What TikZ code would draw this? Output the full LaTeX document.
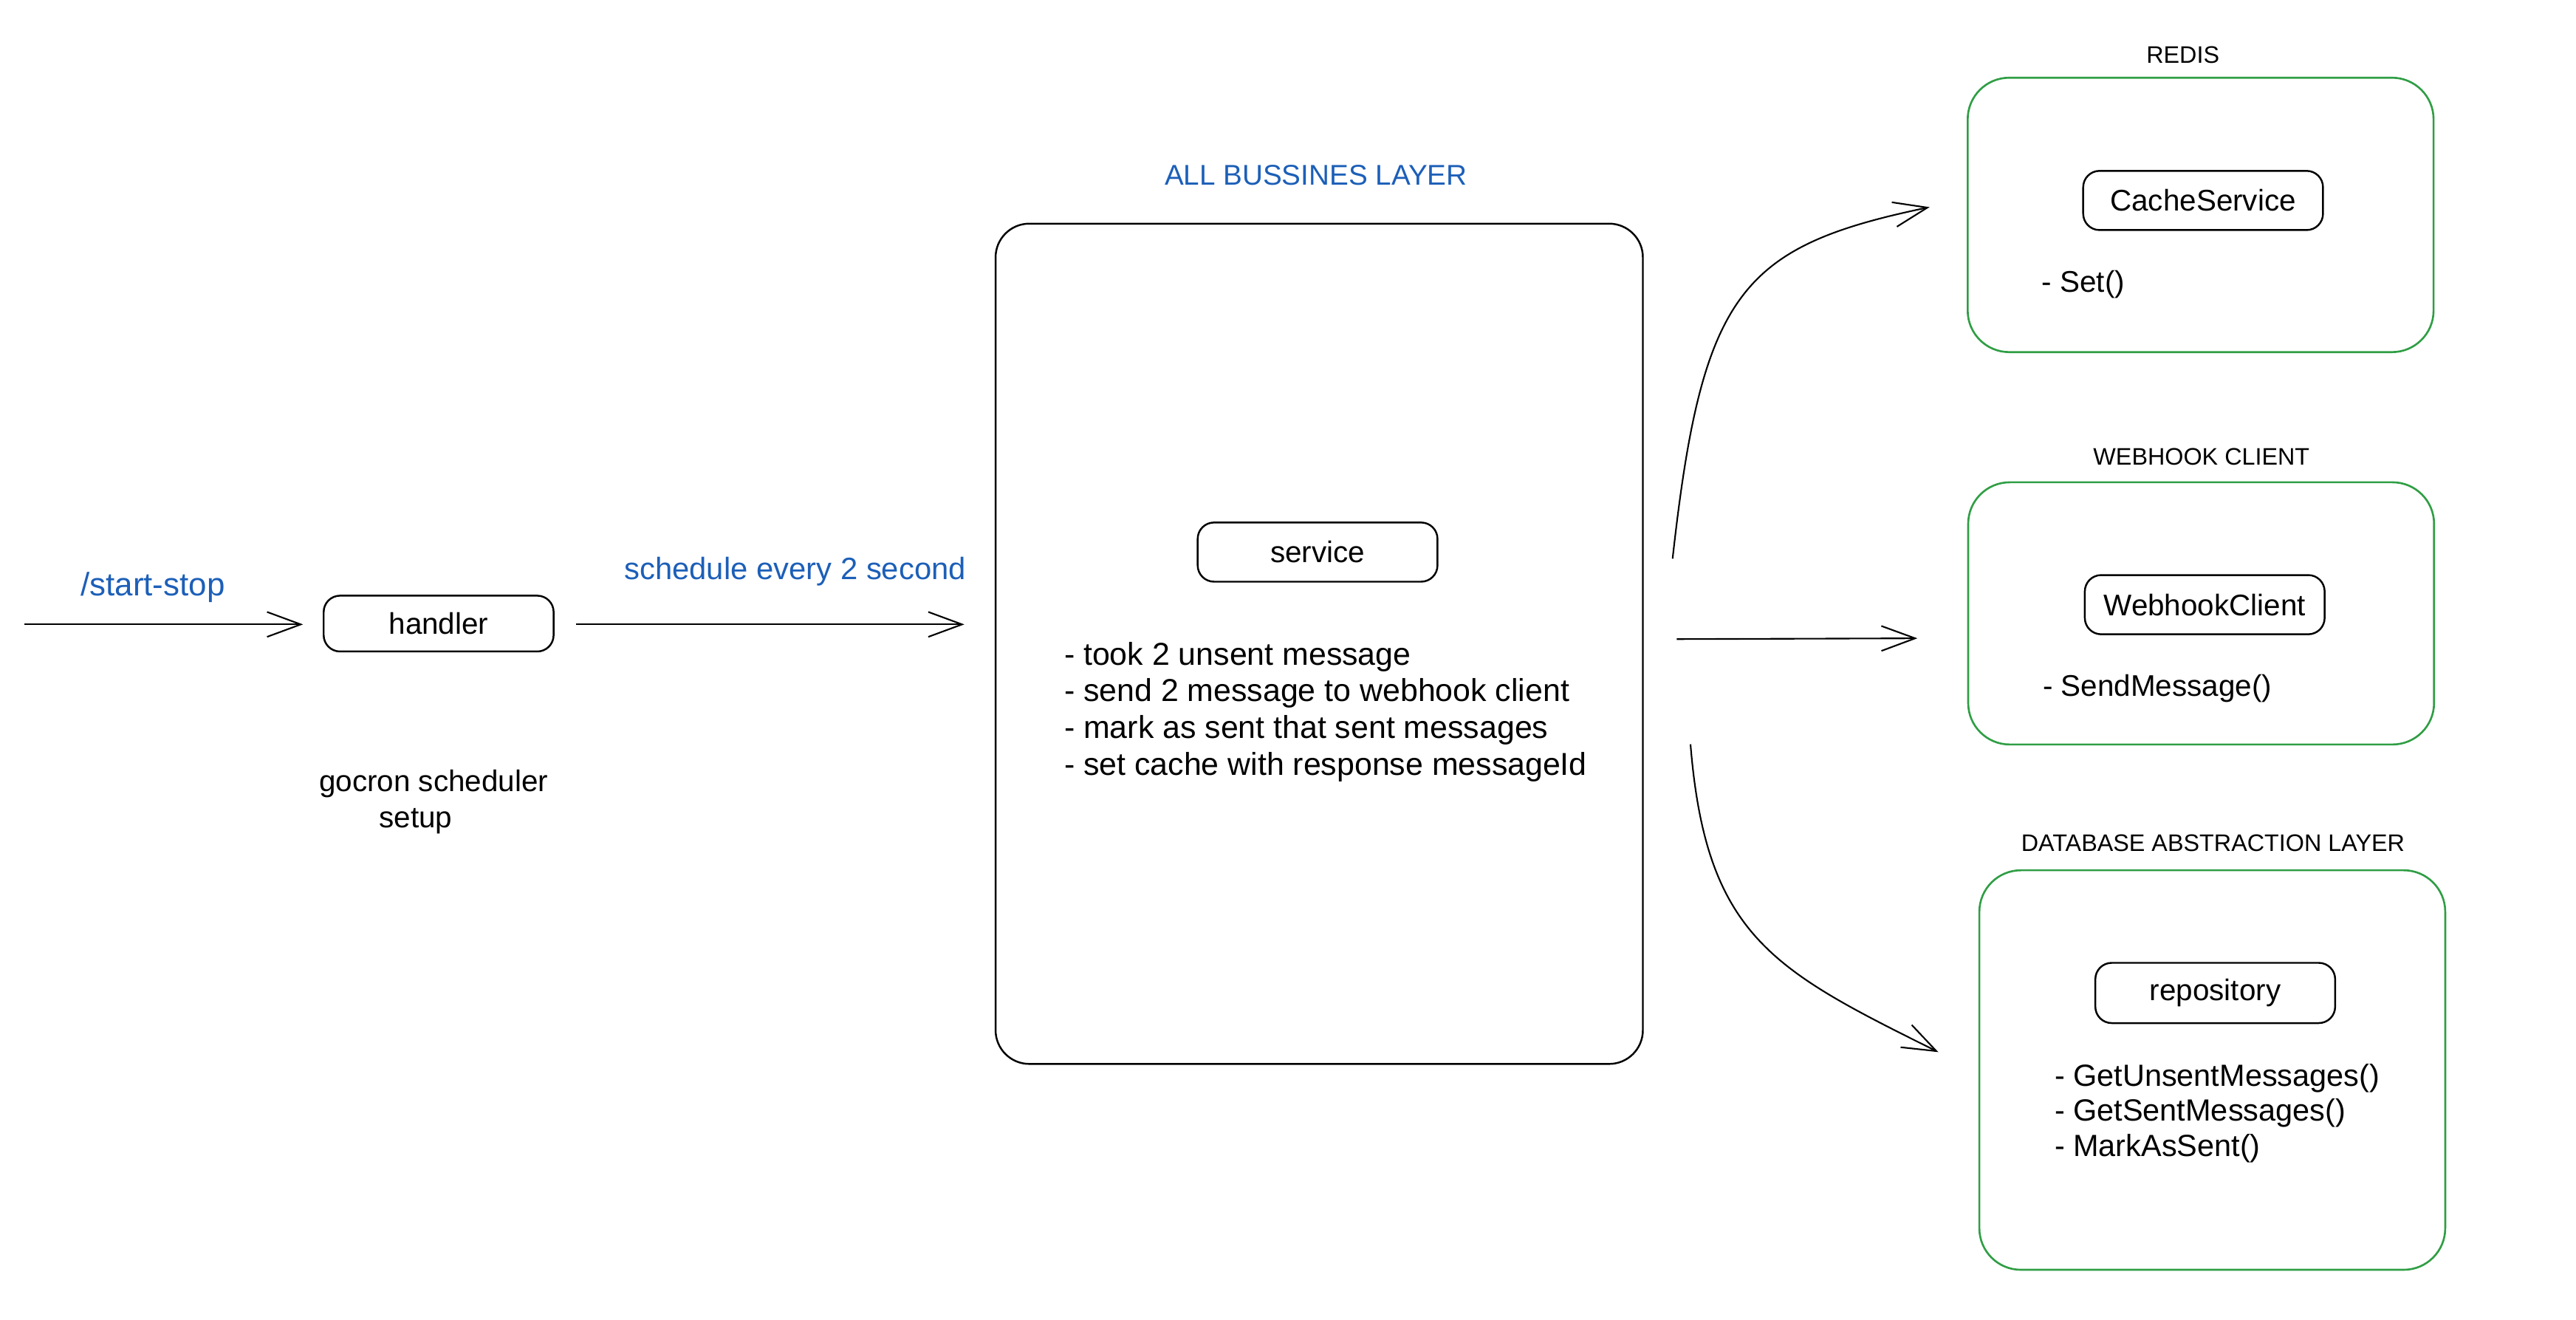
\documentclass[tikz,border=0pt]{standalone}
\usepackage{fontspec}
\setmainfont{Liberation Sans}
\usetikzlibrary{arrows.meta,calc}
\definecolor{exblue}{HTML}{1C5FB8}
\definecolor{exgreen}{HTML}{2F9E44}
\begin{document}
\begin{tikzpicture}[x=0.022245cm,y=-0.022245cm,
  txt/.style={inner sep=0pt,font=\fontsize{11.5}{14}\selectfont},
  bluetxt/.style={inner sep=0pt,text=exblue,font=\fontsize{12.5}{15}\selectfont},
  captxt/.style={inner sep=0pt,font=\fontsize{9.2}{11}\selectfont},
  smallbox/.style={draw,line width=0.7pt,rounded corners=6.3pt,minimum width=92.4pt,minimum height=22.8pt,inner sep=0pt,font=\fontsize{11.5}{14}\selectfont},
  bigbox/.style={draw,line width=0.7pt,rounded corners=13pt,minimum width=249.4pt,minimum height=323.7pt,inner sep=0pt},
  greenbox/.style={draw=exgreen,line width=0.75pt,rounded corners=16pt,minimum width=179.5pt,inner sep=0pt},
  arr/.style={line width=0.6pt,-{Straight Barb[length=13pt,width=9.6pt,line width=0.6pt]}}
]
\useasboundingbox (0,0) rectangle (1568,802.9);

% left part
\coordinate (src) at (15,380);
\node[smallbox,minimum width=88.6pt,minimum height=21.5pt] (handler) at (267,379.5) {handler};
\node[bluetxt,anchor=base] (startstop) at (93,362.5) {/start-stop};
\node[bluetxt,anchor=base,font=\fontsize{11.9}{15}\selectfont] (sched) at (484,352.6) {schedule every 2 second};
\node[txt,align=center] (gocron) at (264,488) {gocron scheduler\\\hspace*{-1.2em}setup};

% business layer
\node[bluetxt,anchor=base,font=\fontsize{11}{13}\selectfont] (biztitle) at (801,112.6) {ALL BUSSINES LAYER};
\node[bigbox] (biz) at (803,391.8) {};
\node[smallbox] (service) at (802,336) {service};
\node[txt,anchor=west,align=left,font=\fontsize{12.2}{14.1}\selectfont] (steps) at (647.5,433.2)
  {- took 2 unsent message\\- send 2 message to webhook client\\- mark as sent that sent messages\\- set cache with response messageId};

% redis
\node[captxt,anchor=base] (redistitle) at (1328.7,38.3) {REDIS};
\node[greenbox,minimum height=105.7pt] (redis) at (1339.5,130.8) {};
\node[smallbox] (cache) at (1341,122) {CacheService};
\node[txt,anchor=west] (setm) at (1242.6,173) {- Set()};

% webhook
\node[captxt,anchor=base] (webtitle) at (1340,283) {WEBHOOK CLIENT};
\node[greenbox,minimum height=101pt] (web) at (1339.8,373.3) {};
\node[smallbox] (webclient) at (1342,368) {WebhookClient};
\node[txt,anchor=west] (sendm) at (1243.2,419) {- SendMessage()};

% database
\node[captxt,anchor=base] (dbtitle) at (1347,518.1) {DATABASE ABSTRACTION LAYER};
\node[greenbox,minimum height=153.9pt] (db) at (1346.6,651.2) {};
\node[smallbox,minimum height=23.2pt] (repo) at (1348.4,604.3) {repository};
\node[txt,anchor=west,align=left,font=\fontsize{11.8}{13.6}\selectfont] (repom) at (1250.3,677.5)
  {- GetUnsentMessages()\\- GetSentMessages()\\- MarkAsSent()};

% connectors
\draw[arr,shorten >=7.6pt] (src) -- (src -| handler.west);
\draw[arr,shorten <=8.2pt,shorten >=11.7pt] (handler.east |- src) -- (src -| biz.west);
\draw[arr] ([xshift=11.1pt,yshift=32.8pt]biz.east) .. controls +(18,-162) and +(-115,24) .. ([xshift=-14.3pt,yshift=3pt]redis.west);
\draw[arr] ([xshift=12.7pt,yshift=1.8pt]biz.east) -- ([xshift=-19.2pt,yshift=-9.6pt]web.west);
\draw[arr] ([xshift=18pt,yshift=-38.7pt]biz.east) .. controls +(9.5,117) and +(-100.5,-50) .. ([xshift=-15.4pt,yshift=6.9pt]db.west);
\end{tikzpicture}
\end{document}
